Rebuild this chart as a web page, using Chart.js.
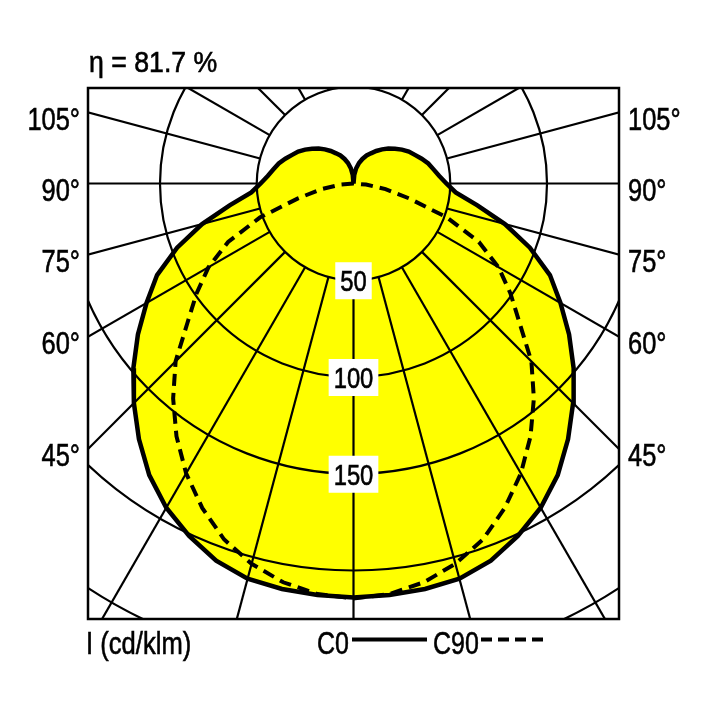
<!DOCTYPE html>
<html>
<head>
<meta charset="utf-8">
<script src="https://cdn.jsdelivr.net/npm/chart.js@4.4.1/dist/chart.umd.min.js"></script>
<style>
  html, body { margin: 0; padding: 0; background: #fff; }
  #wrap { width: 708px; height: 708px; }
</style>
</head>
<body>
<div id="wrap"><canvas id="ldc"></canvas></div>
<script>
// gamma angle from nadir (deg) and luminous intensity (cd/klm)
const gammaC0 = [0, 5, 10, 15, 20, 25, 30, 35, 40, 45, 50, 55, 60, 65, 70, 75, 80, 85, 90,
                 95, 100, 105, 110, 115, 120, 125, 130, 135, 140, 145, 150, 155, 160, 165, 170, 175, 180];
const c0 = [214, 213.5, 212.8, 211.5, 207.5, 201, 193.5, 184, 172.5, 160.5, 148.5, 136, 123.5, 112, 97, 81, 65, 53, 48,
            44.5, 42, 40, 37.5, 35, 33, 30.5, 28, 25.5, 23, 20.5, 18, 16, 13.5, 11, 8, 4.5, 0];
const gammaC90 = [0, 5, 10, 15, 20, 25, 30, 35, 40, 45, 50, 55, 60, 65, 70, 75, 80, 85, 90];
const c90 = [214.5, 213, 209.3, 203.5, 195.7, 185, 173, 159.5, 145, 130, 112, 99, 86.5, 71.5, 51.5, 29.7, 16.8, 6.5, 0];

const rings = [50, 100, 150, 200, 250];
const ringLabels = ['50', '100', '150'];
const angleStep = 15;
const sideLabels = [105, 90, 75, 60, 45];
const titleText = 'η = 81.7 %';
const unitText = 'I (cd/klm)';
const legendC0 = 'C0';
const legendC90 = 'C90';

const FONT = '"Liberation Sans", Arial, sans-serif';
const SQ = 0.82; // condensed look

function pt(g, v, side) {
    const t = g * Math.PI / 180;
    return { x: side * v * Math.sin(t), y: -v * Math.cos(t) };
}

// closed outline of C0-C180 plane (right side up, left side back down)
const c0Points = gammaC0.map((g, i) => pt(g, c0[i], 1));
for (let i = gammaC0.length - 2; i >= 0; i--) c0Points.push(pt(gammaC0[i], c0[i], -1));

// C90-C270 plane
const c90Points = [];
for (let i = gammaC90.length - 1; i >= 1; i--) c90Points.push(pt(gammaC90[i], c90[i], -1));
gammaC90.forEach((g, i) => c90Points.push(pt(g, c90[i], 1)));

function text(ctx, s, x, y, align, size, sq) {
    ctx.save();
    ctx.translate(x, y);
    ctx.scale(sq || SQ, 1);
    ctx.font = size + 'px ' + FONT;
    ctx.textAlign = align;
    ctx.textBaseline = 'alphabetic';
    ctx.fillStyle = '#000';
    ctx.strokeStyle = '#000';
    ctx.lineWidth = 0.6;
    ctx.setLineDash([]);
    ctx.fillText(s, 0, 0);
    ctx.strokeText(s, 0, 0);
    ctx.restore();
}

const polarGrid = {
    id: 'polarGrid',
    afterDatasetDraw(chart, args) {
        if (args.index !== 0) return;
        const { ctx, chartArea: a, scales: { x, y } } = chart;
        const cx = x.getPixelForValue(0), cy = y.getPixelForValue(0);
        const unit = x.getPixelForValue(1) - cx;
        ctx.save();
        ctx.beginPath();
        ctx.rect(a.left, a.top, a.width, a.height);
        ctx.clip();
        ctx.strokeStyle = '#000';
        ctx.lineWidth = 2.2;
        rings.forEach(v => {
            ctx.beginPath();
            ctx.arc(cx, cy, v * unit, 0, Math.PI * 2);
            ctx.stroke();
        });
        const r0 = rings[0] * unit;
        for (let g = 0; g < 360; g += angleStep) {
            const t = g * Math.PI / 180;
            ctx.beginPath();
            ctx.moveTo(cx + r0 * Math.sin(t), cy + r0 * Math.cos(t));
            ctx.lineTo(cx + 1200 * Math.sin(t), cy + 1200 * Math.cos(t));
            ctx.stroke();
        }
        ctx.restore();
    },
    afterDraw(chart) {
        const { ctx, chartArea: a, scales: { x, y } } = chart;
        const cx = x.getPixelForValue(0), cy = y.getPixelForValue(0);
        const unit = x.getPixelForValue(1) - cx;

        ctx.save();
        ctx.strokeStyle = '#000';
        ctx.lineWidth = 2.5;
        ctx.strokeRect(a.left, a.top, a.width, a.height);

        // ring values on the nadir axis
        ringLabels.forEach(s => {
            const yy = cy + Number(s) * unit;
            ctx.font = '29px ' + FONT;
            const w = ctx.measureText(s).width * SQ + 10;
            ctx.fillStyle = '#fff';
            ctx.fillRect(cx - w / 2, yy - 18, w, 37);
            text(ctx, s, cx, yy + 11, 'center', 29);
        });

        // gamma labels on both sides
        sideLabels.forEach(g => {
            const t = g * Math.PI / 180;
            const yy = cy + (cx - a.left) * Math.cos(t) / Math.sin(t);
            text(ctx, g + '°', a.left - 8, yy + 17.5, 'right', 31);
            text(ctx, g + '°', a.right + 9, yy + 17.5, 'left', 31);
        });

        text(ctx, titleText, a.left + 1, 72, 'left', 29, 0.92);
        text(ctx, unitText, a.left - 2, 654, 'left', 32, 0.8);

        // legend
        text(ctx, legendC0, 317, 654, 'left', 32, 0.78);
        ctx.lineWidth = 4;
        ctx.beginPath();
        ctx.moveTo(352, 639.5);
        ctx.lineTo(427, 639.5);
        ctx.stroke();
        text(ctx, legendC90, 433, 654, 'left', 32, 0.78);
        ctx.setLineDash([11, 6]);
        ctx.beginPath();
        ctx.moveTo(481, 639.5);
        ctx.lineTo(544, 639.5);
        ctx.stroke();
        ctx.restore();
    }
};

new Chart(document.getElementById('ldc'), {
    type: 'scatter',
    data: {
        datasets: [
            {
                label: 'fill',
                data: c0Points,
                showLine: true,
                fill: 'shape',
                backgroundColor: '#ffff00',
                borderColor: 'rgba(0,0,0,0)',
                borderWidth: 1,
                pointRadius: 0,
                tension: 0,
                order: 3
            },
            {
                label: legendC90,
                data: c90Points,
                showLine: true,
                fill: false,
                borderColor: '#000',
                borderWidth: 4,
                borderDash: [12, 7],
                pointRadius: 0,
                tension: 0,
                order: 2
            },
            {
                label: legendC0,
                data: c0Points,
                showLine: true,
                fill: false,
                borderColor: '#000',
                borderWidth: 4.5,
                pointRadius: 0,
                tension: 0,
                order: 1
            }
        ]
    },
    options: {
        responsive: true,
        maintainAspectRatio: false,
        animation: false,
        events: [],
        layout: { padding: { left: 88, top: 88, right: 89, bottom: 89 } },
        scales: {
            x: { type: 'linear', min: -137.2, max: 137.2, display: false },
            y: { type: 'linear', min: -225.1, max: 49.35, display: false }
        },
        plugins: {
            legend: { display: false },
            tooltip: { enabled: false },
            title: { display: false }
        }
    },
    plugins: [polarGrid]
});
</script>
</body>
</html>
